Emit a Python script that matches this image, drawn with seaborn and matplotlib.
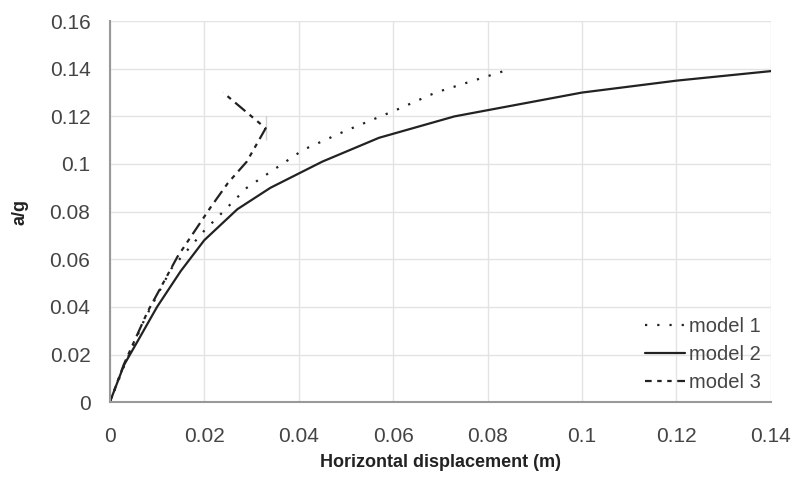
import pandas as pd
import matplotlib.pyplot as plt
import seaborn as sns

# values
m1_x = [0.0, 0.003, 0.0074, 0.013, 0.020, 0.029, 0.041, 0.050, 0.061, 0.069, 0.077, 0.085]
m1_y = [0.0, 0.015, 0.035, 0.056, 0.072, 0.090, 0.106, 0.114, 0.123, 0.130, 0.135, 0.140]
m2_x = [0.0, 0.003, 0.006, 0.010, 0.015, 0.020, 0.027, 0.034, 0.045, 0.057, 0.073, 0.100, 0.120, 0.140]
m2_y = [0.0, 0.0156, 0.026, 0.040, 0.055, 0.068, 0.081, 0.090, 0.101, 0.111, 0.120, 0.130, 0.135, 0.139]
m3_x = [0.0, 0.003, 0.008, 0.0143, 0.0214, 0.025, 0.029, 0.033, 0.033, 0.024]
m3_y = [0.0, 0.016, 0.038, 0.061, 0.082, 0.092, 0.101, 0.110, 0.120, 0.130]
labels = ["model 1", "model 2", "model 3"]
x_ticks = [0, 0.02, 0.04, 0.06, 0.08, 0.1, 0.12, 0.14]
y_ticks = [0, 0.02, 0.04, 0.06, 0.08, 0.1, 0.12, 0.14, 0.16]
tick_text_x = ["0", "0.02", "0.04", "0.06", "0.08", "0.1", "0.12", "0.14"]
tick_text_y = ["0", "0.02", "0.04", "0.06", "0.08", "0.1", "0.12", "0.14", "0.16"]

sns.set_style("white")
plt.rcParams["font.family"] = ["Liberation Sans", "DejaVu Sans"]

fig = plt.figure(figsize=(7.96, 4.91), dpi=100)
ax = fig.add_axes([0.138, 0.181, 0.8305, 0.776])

# dotted / solid / dash-dot-dot
styles = [(0, (1, 4.5)), "-", (3, (6, 2.5, 2, 2.5, 2, 2.5))]
for xs, ys, lab, ls in zip([m1_x, m2_x, m3_x], [m1_y, m2_y, m3_y], labels, styles):
    df = pd.DataFrame({"x": xs, "y": ys})
    sns.lineplot(data=df, x="x", y="y", sort=False, ax=ax, color="#222222",
                 linestyle=ls, linewidth=1.6, label=lab)

ax.set_xlim(0, 0.14)
ax.set_ylim(0, 0.16)
ax.set_xticks(x_ticks)
ax.set_xticklabels(tick_text_x)
ax.set_yticks(y_ticks)
ax.set_yticklabels(tick_text_y)
ax.grid(True, color="#e3e3e3", linewidth=1)
ax.tick_params(axis="both", direction="out", length=6, width=1, color="#999999",
               labelsize=15, labelcolor="#444444", pad=8)
ax.tick_params(axis="x", pad=12)
for s in ["top", "right"]:
    ax.spines[s].set_visible(False)
for s in ["left", "bottom"]:
    ax.spines[s].set_color("#999999")
    ax.spines[s].set_linewidth(1.5)

ax.set_xlabel("Horizontal displacement (m)", fontsize=13, fontweight="bold",
              color="#222222", labelpad=6)
ax.set_ylabel("a/g", fontsize=13, fontweight="bold", color="#222222", labelpad=15)

leg = ax.legend(loc="lower right", frameon=False, fontsize=14.5, handlelength=2.0,
                handletextpad=0.2, labelspacing=0.45, borderaxespad=0.1)
for t in leg.get_texts():
    t.set_color("#444444")

fig.savefig("out.png", dpi=100)
